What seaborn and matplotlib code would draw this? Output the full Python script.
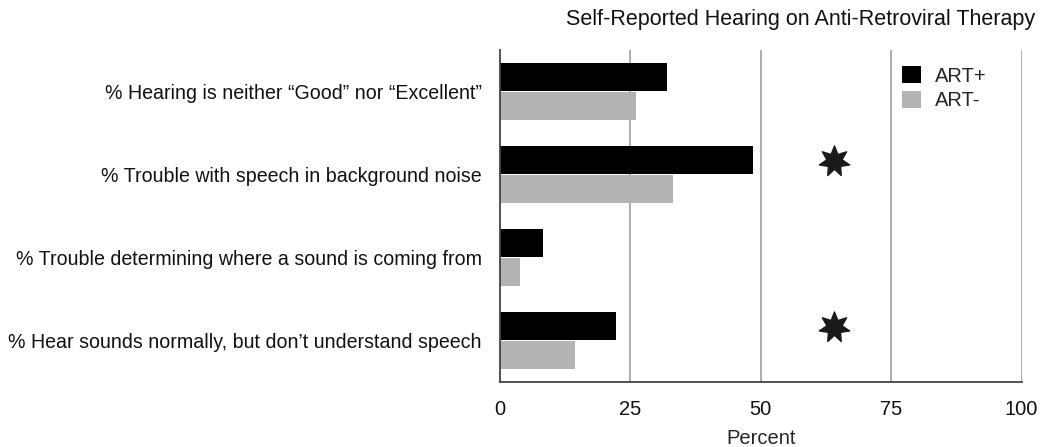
import pandas as pd
import matplotlib
matplotlib.use("Agg")
import matplotlib.pyplot as plt
import seaborn as sns

# data
questions = [
    "% Hearing is neither \u201cGood\u201d nor \u201cExcellent\u201d",
    "% Trouble with speech in background noise",
    "% Trouble determining where a sound is coming from",
    "% Hear sounds normally, but don\u2019t understand speech",
]
art_pos = [32.0, 48.6, 8.2, 22.3]
art_neg = [26.1, 33.1, 3.8, 14.5]
significant = [False, True, False, True]
star_at = 64
groups = ["ART+", "ART-"]

df = pd.DataFrame({
    "Question": questions * 2,
    "Percent": art_pos + art_neg,
    "Group": [groups[0]] * len(questions) + [groups[1]] * len(questions),
})

sns.set_theme(style="white")
plt.rcParams["font.family"] = ["Liberation Sans", "DejaVu Sans"]

fig, ax = plt.subplots(figsize=(10.5, 4.47), dpi=100)
fig.subplots_adjust(left=0.476, right=0.973, bottom=0.145, top=0.888)

sns.barplot(data=df, y="Question", x="Percent", hue="Group", orient="h",
            palette={"ART+": "#000000", "ART-": "#b3b3b3"},
            width=0.7, gap=0.05, saturation=1, linewidth=0, ax=ax)

# significance stars next to the ART+ bar
for i, sig in enumerate(significant):
    if sig:
        ax.scatter(star_at, i - 0.16, marker=(7, 1, 0), s=500, color="#1a1a1a", zorder=3)

ax.set_xlim(0, 100)
ax.set_ylim(3.5, -0.5)
ax.set_xticks([0, 25, 50, 75, 100])
for xv in [25, 50, 75, 100]:
    ax.axvline(xv, color="#a0a0a0", linewidth=1.2, zorder=0)

for side in ["top", "right"]:
    ax.spines[side].set_visible(False)
for side in ["left", "bottom"]:
    ax.spines[side].set_color("#444444")
    ax.spines[side].set_linewidth(1.3)

ax.tick_params(axis="x", length=0, labelsize=14.5, colors="#111111", pad=13)
ax.tick_params(axis="y", length=0, labelsize=14.1, colors="#111111", pad=13)
ax.set_ylabel("")
ax.set_xlabel("Percent", fontsize=14.5, labelpad=7)

leg = ax.legend(loc="upper left", bbox_to_anchor=(0.77, 0.952), frameon=False,
                fontsize=14.5, handlelength=0.95, handleheight=0.95,
                handletextpad=0.7, labelspacing=0.25, borderpad=0, borderaxespad=0)

fig.text(1035 / 1050, 0.98, "Self-Reported Hearing on Anti-Retroviral Therapy",
         ha="right", va="top", fontsize=15.5, color="#111111")

fig.savefig("out.png", dpi=100)
